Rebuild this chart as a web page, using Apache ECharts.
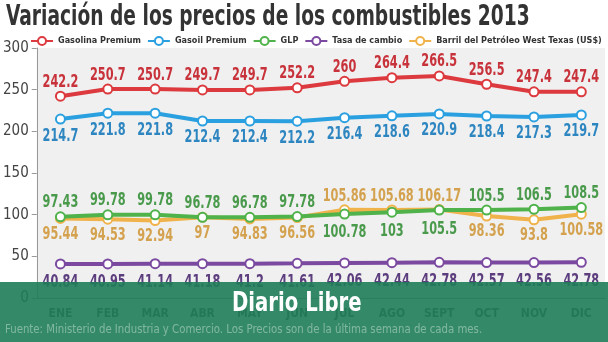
<!DOCTYPE html>
<html>
<head>
<meta charset="utf-8">
<script src="https://cdn.jsdelivr.net/npm/echarts@6/dist/echarts.min.js"></script>
<style>html,body{margin:0;padding:0;background:#fff}#c{width:608px;height:342px}</style>
</head>
<body>
<div id="c"></div>
<script>
const months = ['ENE','FEB','MAR','ABR','MAY','JUN','JUL','AGO','SEPT','OCT','NOV','DIC'];
const gasolina = [242.2,250.7,250.7,249.7,249.7,252.2,260,264.4,266.5,256.5,247.4,247.4];
const gasoil = [214.7,221.8,221.8,212.4,212.4,212.2,216.4,218.6,220.9,218.4,217.3,219.7];
const glp = [97.43,99.78,99.78,96.78,96.78,97.78,100.78,103,105.5,105.5,106.5,108.5];
const tasa = [40.84,40.95,41.14,41.18,41.2,41.61,42.06,42.44,42.78,42.57,42.56,42.78];
const barril = [95.44,94.53,92.94,97,94.83,96.56,105.86,105.68,106.17,98.36,93.8,100.58];
const yTicks = [0,50,100,150,200,250,300];
const seriesNames = ['Gasolina Premium','Gasoil Premium','GLP','Tasa de cambio','Barril del Petróleo West Texas (US$)'];
// months (indices) where GLP / Barril labels swap sides in the original
const swapIdx = [6,7,8];

const COND = '"DejaVu Sans Condensed","DejaVu Sans",sans-serif';

function line(name, data, color, z) {
  return {
    name, type: 'line', data, z,
    symbol: 'emptyCircle', symbolSize: 9,
    lineStyle: {width: 4, color},
    itemStyle: {color, borderWidth: 2.5},
    emphasis: {disabled: true}
  };
}
// value labels drawn through the chart's own scale (api.coord), condensed via scaleX
function labels(name, data, color, upOff, downOff, below, swap) {
  return {
    name: name + ' · etiquetas', type: 'custom', coordinateSystem: 'cartesian2d',
    silent: true, z: 6, clip: false,
    data: data.map((v, i) => [i, v]),
    encode: {x: 0, y: 1},
    renderItem: function (params, api) {
      const i = params.dataIndex;
      const p = api.coord([api.value(0), api.value(1)]);
      let b = below;
      if (swap && swapIdx.includes(i)) b = !b;
      return {
        type: 'text', x: p[0], y: p[1] + (b ? downOff : -upOff), scaleX: 0.74,
        style: {text: String(data[i]), fill: color, align: 'center', verticalAlign: 'middle',
          font: 'bold 17px ' + COND}
      };
    }
  };
}

const chart = echarts.init(document.getElementById('c'), null, {renderer: 'canvas'});
chart.setOption({
  animation: false,
  legend: {top: 36, left: 30, width: 578, padding: 0, itemWidth: 22, itemHeight: 10, itemGap: 6,
    textStyle: {fontFamily: COND, fontWeight: 'bold', fontSize: 9, color: '#333'},
    data: seriesNames},
  grid: {left: 35, right: 3, top: 48, bottom: 44, show: true, backgroundColor: '#f0f0f0', borderWidth: 0},
  xAxis: {type: 'category', data: months, boundaryGap: true,
    axisLine: {lineStyle: {color: '#999', width: 1}},
    axisTick: {inside: true, length: 5, lineStyle: {color: '#999'}},
    axisLabel: {margin: 10, fontFamily: COND, fontWeight: 'bold', fontSize: 12, color: '#555'}},
  yAxis: {type: 'value', min: yTicks[0], max: yTicks[yTicks.length - 1], interval: 50,
    splitLine: {show: false},
    axisLine: {show: true, lineStyle: {color: '#999', width: 1}},
    axisTick: {show: true, length: 5, lineStyle: {color: '#999'}},
    axisLabel: {margin: 8, fontFamily: COND, fontSize: 15, color: '#444'}},
  series: [
    line(seriesNames[0], gasolina, '#dc3a3e', 3),
    line(seriesNames[1], gasoil, '#2ba0e0', 3),
    line(seriesNames[4], barril, '#f0b24a', 3),
    line(seriesNames[2], glp, '#4fb24a', 4),
    line(seriesNames[3], tasa, '#7b4aa0', 3),
    labels(seriesNames[0], gasolina, '#c8323a', 14, 17, false, false),
    labels(seriesNames[1], gasoil, '#2e86c1', 14, 17, true, false),
    labels(seriesNames[2], glp, '#4a9a4c', 14, 19, false, true),
    labels(seriesNames[3], tasa, '#5c3d7e', 14, 19, true, false),
    labels(seriesNames[4], barril, '#d4a24e', 13, 16, true, true)
  ],
  graphic: [
    {type: 'text', z: 10, x: 6, y: 18, scaleX: 0.74,
      style: {text: 'Variación de los precios de los combustibles 2013', fill: '#333',
        verticalAlign: 'middle', font: 'bold 28px ' + COND}},
    {type: 'rect', z: 100, shape: {x: 0, y: 282, width: 608, height: 60},
      style: {fill: 'rgba(30,125,88,0.9)'}},
    {type: 'text', z: 101, x: 232, y: 304, scaleX: 0.81,
      style: {text: 'Diario Libre', fill: '#fff', verticalAlign: 'middle', font: 'bold 27px ' + COND}},
    {type: 'text', z: 101, x: 5, y: 330, scaleX: 0.94,
      style: {text: 'Fuente: Ministerio de Industria y Comercio. Los Precios son de la última semana de cada mes.',
        fill: 'rgba(255,255,255,0.38)', verticalAlign: 'middle', font: '12px ' + COND}}
  ]
});
</script>
</body>
</html>
